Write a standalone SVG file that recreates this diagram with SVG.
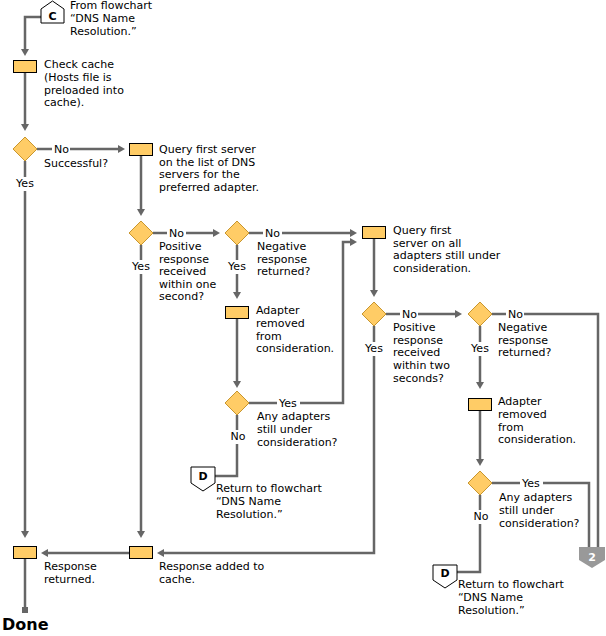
<svg xmlns="http://www.w3.org/2000/svg" width="606" height="636" viewBox="0 0 606 636">
<style>
.ln{fill:none;stroke:#666;stroke-width:2.5}
.box{fill:#FFCC66;stroke:#000;stroke-width:1}
.dia{fill:#FFCC66;stroke:#C8962E;stroke-width:1}
.off{fill:#fff;stroke:#000;stroke-width:1}
.off2{fill:#999;stroke:none}
text{font-family:"DejaVu Sans",Verdana,sans-serif;font-size:11px;fill:#000}
.mid{text-anchor:middle}
.b{font-weight:bold;text-anchor:middle}
.done{font-weight:bold;font-size:16px}
</style>
<defs>
<marker id="ah" markerUnits="userSpaceOnUse" markerWidth="8" markerHeight="8" refX="2" refY="4" orient="auto">
<path d="M0,0 L7,4 L0,8 Z" fill="#666"/>
</marker>
</defs>
<rect width="606" height="636" fill="#fff"/>
<g id="connectors">
<path class="ln" d="M41,17 H25 V51" marker-end="url(#ah)"/>
<path class="ln" d="M25,73 V126" marker-end="url(#ah)"/>
<path class="ln" d="M37,149 H52"/>
<path class="ln" d="M70,149 H120" marker-end="url(#ah)"/>
<path class="ln" d="M25,161 V177"/>
<path class="ln" d="M25,191 V533" marker-end="url(#ah)"/>
<path class="ln" d="M141,156 V211" marker-end="url(#ah)"/>
<path class="ln" d="M153,233 H167"/>
<path class="ln" d="M186,233 H215" marker-end="url(#ah)"/>
<path class="ln" d="M141,245 V260"/>
<path class="ln" d="M141,274 V533" marker-end="url(#ah)"/>
<path class="ln" d="M249,233 H263"/>
<path class="ln" d="M282,233 H352" marker-end="url(#ah)"/>
<path class="ln" d="M237,245 V260"/>
<path class="ln" d="M237,274 V294" marker-end="url(#ah)"/>
<path class="ln" d="M237,319 V383" marker-end="url(#ah)"/>
<path class="ln" d="M249,403 H277"/>
<path class="ln" d="M300,403 H343 V242 H352" marker-end="url(#ah)"/>
<path class="ln" d="M237,415 V430"/>
<path class="ln" d="M237,444 V476 H215"/>
<path class="ln" d="M374,239 V292" marker-end="url(#ah)"/>
<path class="ln" d="M386,314 H400"/>
<path class="ln" d="M418,314 H457" marker-end="url(#ah)"/>
<path class="ln" d="M374,326 V342"/>
<path class="ln" d="M374,356 V553 H162" marker-end="url(#ah)"/>
<path class="ln" d="M492,314 H506"/>
<path class="ln" d="M524,314 H598 V548"/>
<path class="ln" d="M480,326 V342"/>
<path class="ln" d="M480,356 V384" marker-end="url(#ah)"/>
<path class="ln" d="M480,411 V461" marker-end="url(#ah)"/>
<path class="ln" d="M492,483 H520"/>
<path class="ln" d="M543,483 H589 V548"/>
<path class="ln" d="M480,495 V510"/>
<path class="ln" d="M480,524 V572 H457"/>
<path class="ln" d="M129,553 H46" marker-end="url(#ah)"/>
<path class="ln" d="M25,559 V607"/>
<rect x="22" y="607" width="6" height="6" fill="#666"/>
<text x="54" y="153">No</text>
<text x="25" y="187" class="mid">Yes</text>
<text x="169" y="237">No</text>
<text x="141" y="270" class="mid">Yes</text>
<text x="265" y="237">No</text>
<text x="237" y="270" class="mid">Yes</text>
<text x="279" y="407">Yes</text>
<text x="238" y="440" class="mid">No</text>
<text x="402" y="318">No</text>
<text x="374" y="352" class="mid">Yes</text>
<text x="508" y="318">No</text>
<text x="480" y="352" class="mid">Yes</text>
<text x="522" y="487">Yes</text>
<text x="481" y="520" class="mid">No</text>
</g>
<g id="startC">
<polygon class="off" points="41,23 41,9 52.5,1 64,9 64,23"/>
<text x="52.5" y="20" class="b">C</text>
<text x="70" y="9">From flowchart<tspan x="70" dy="12.8">“DNS Name</tspan><tspan x="70" dy="12.8">Resolution.”</tspan></text>
</g>
<g id="checkCache">
<rect class="box" x="13.5" y="60.5" width="23" height="12"/>
<text x="44" y="68">Check cache<tspan x="44" dy="12.8">(Hosts file is</tspan><tspan x="44" dy="12.8">preloaded into</tspan><tspan x="44" dy="12.8">cache).</tspan></text>
</g>
<g id="successful">
<polygon class="dia" points="25,137 37,149 25,161 13,149"/>
<text x="44" y="167">Successful?</text>
</g>
<g id="queryFirst">
<rect class="box" x="129.5" y="143.5" width="23" height="12"/>
<text x="159" y="153">Query first server<tspan x="159" dy="12.6">on the list of DNS</tspan><tspan x="159" dy="12.6">servers for the</tspan><tspan x="159" dy="12.6">preferred adapter.</tspan></text>
</g>
<g id="positive1">
<polygon class="dia" points="141,221 153,233 141,245 129,233"/>
<text x="159" y="250">Positive<tspan x="159" dy="12.6">response</tspan><tspan x="159" dy="12.6">received</tspan><tspan x="159" dy="12.6">within one</tspan><tspan x="159" dy="12.6">second?</tspan></text>
</g>
<g id="negative1">
<polygon class="dia" points="237,221 249,233 237,245 225,233"/>
<text x="257" y="250">Negative<tspan x="257" dy="12.6">response</tspan><tspan x="257" dy="12.6">returned?</tspan></text>
</g>
<g id="adapterRemoved1">
<rect class="box" x="225.5" y="306.5" width="23" height="12"/>
<text x="256" y="314">Adapter<tspan x="256" dy="12.8">removed</tspan><tspan x="256" dy="12.8">from</tspan><tspan x="256" dy="12.8">consideration.</tspan></text>
</g>
<g id="anyAdapters1">
<polygon class="dia" points="237,391 249,403 237,415 225,403"/>
<text x="257" y="420">Any adapters<tspan x="257" dy="12.8">still under</tspan><tspan x="257" dy="12.8">consideration?</tspan></text>
</g>
<g id="returnD1">
<polygon class="off" points="191,467 215,467 215,483 203,491 191,483"/>
<text x="203" y="480" class="b">D</text>
<text x="216" y="492">Return to flowchart<tspan x="216" dy="12.8">“DNS Name</tspan><tspan x="216" dy="12.8">Resolution.”</tspan></text>
</g>
<g id="queryAll">
<rect class="box" x="362.5" y="226.5" width="23" height="12"/>
<text x="393" y="234">Query first<tspan x="393" dy="12.7">server on all</tspan><tspan x="393" dy="12.7">adapters still under</tspan><tspan x="393" dy="12.7">consideration.</tspan></text>
</g>
<g id="positive2">
<polygon class="dia" points="374,302 386,314 374,326 362,314"/>
<text x="393" y="331">Positive<tspan x="393" dy="12.7">response</tspan><tspan x="393" dy="12.7">received</tspan><tspan x="393" dy="12.7">within two</tspan><tspan x="393" dy="12.7">seconds?</tspan></text>
</g>
<g id="negative2">
<polygon class="dia" points="480,302 492,314 480,326 468,314"/>
<text x="498" y="331">Negative<tspan x="498" dy="12.7">response</tspan><tspan x="498" dy="12.7">returned?</tspan></text>
</g>
<g id="adapterRemoved2">
<rect class="box" x="468.5" y="398.5" width="23" height="12"/>
<text x="498" y="405">Adapter<tspan x="498" dy="12.8">removed</tspan><tspan x="498" dy="12.8">from</tspan><tspan x="498" dy="12.8">consideration.</tspan></text>
</g>
<g id="anyAdapters2">
<polygon class="dia" points="480,471 492,483 480,495 468,483"/>
<text x="499" y="501">Any adapters<tspan x="499" dy="12.8">still under</tspan><tspan x="499" dy="12.8">consideration?</tspan></text>
</g>
<g id="returnD2">
<polygon class="off" points="433,565 457,565 457,580 445,588 433,580"/>
<text x="445" y="577" class="b">D</text>
<text x="458" y="588">Return to flowchart<tspan x="458" dy="12.8">“DNS Name</tspan><tspan x="458" dy="12.8">Resolution.”</tspan></text>
</g>
<g id="goto2">
<polygon class="off2" points="579,547 605,547 605,560 592,568 579,560"/>
<text x="592" y="561" class="b" style="fill:#fff">2</text>
</g>
<g id="responseAdded">
<rect class="box" x="129.5" y="546.5" width="23" height="12"/>
<text x="159" y="570">Response added to<tspan x="159" dy="12.8">cache.</tspan></text>
</g>
<g id="responseReturned">
<rect class="box" x="13.5" y="546.5" width="23" height="12"/>
<text x="44" y="570">Response<tspan x="44" dy="12.8">returned.</tspan></text>
</g>
<g id="done">
<text x="2" y="630" class="done">Done</text>
</g>
</svg>
